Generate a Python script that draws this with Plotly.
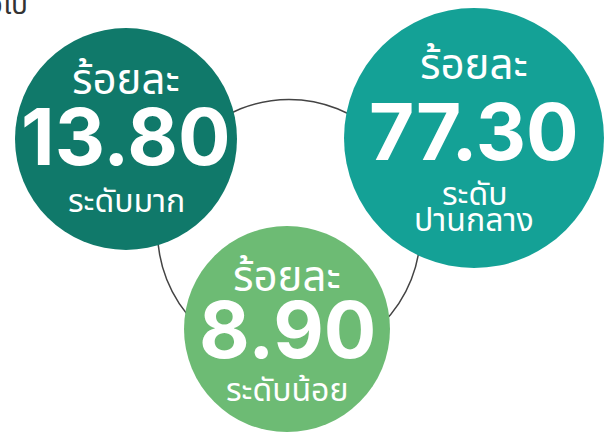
import plotly.graph_objects as go

# data
levels = ["ระดับมาก", "ระดับ<br>ปานกลาง", "ระดับน้อย"]
values = [13.80, 77.30, 8.90]
prefix = "ร้อยละ"
lead_text = "ต่อไป"

# styles / layout (pixels, y grows downward)
colors = ["#10796A", "#14A196", "#6DBB74"]
centers = [(126, 139), (474, 138), (287, 329)]
radii = [111, 130, 103]
ring_center = (289, 231)
ring_r = 131.5

W, H = 607, 432
thai = "Noto Sans Thai, Noto Sans, DejaVu Sans, sans-serif"
num_font = "Inter, Roboto, Liberation Sans, sans-serif"

fig = go.Figure()

# invisible trace so the axes exist
fig.add_trace(go.Scatter(x=[0, W], y=[0, H], mode="markers",
                         marker=dict(opacity=0), hoverinfo="skip", showlegend=False))

shapes = [dict(type="circle", xref="x", yref="y",
               x0=ring_center[0] - ring_r, x1=ring_center[0] + ring_r,
               y0=ring_center[1] - ring_r, y1=ring_center[1] + ring_r,
               line=dict(color="#444444", width=1.5), fillcolor="rgba(0,0,0,0)")]
for (cx, cy), r, c in zip(centers, radii, colors):
    shapes.append(dict(type="circle", xref="x", yref="y",
                       x0=cx - r, x1=cx + r, y0=cy - r, y1=cy + r,
                       line=dict(width=0), fillcolor=c))

annotations = []
# text offsets inside each circle (prefix, number, level)
offsets = [(-58, -3, 63), (-72, -7, 57), (-51, 0, 62)]
for (cx, cy), v, lv, (o1, o2, o3) in zip(centers, values, levels, offsets):
    annotations.append(dict(x=cx, y=cy + o1, text=prefix, showarrow=False,
                            font=dict(family=thai, size=42, color="white")))
    annotations.append(dict(x=cx, y=cy + o2, text="<b>%.2f</b>" % v, showarrow=False,
                            font=dict(family=num_font, size=78, color="white")))
    for i, line in enumerate(lv.split("<br>")):
        annotations.append(dict(x=cx, y=cy + o3 + i * 26, text=line, showarrow=False,
                                font=dict(family=thai, size=32, color="white")))

annotations.append(dict(x=30, y=5, text=lead_text, showarrow=False, xanchor="right",
                        font=dict(family=thai, size=28, color="#333333")))

fig.update_layout(
    width=W, height=H,
    margin=dict(l=0, r=0, t=0, b=0),
    paper_bgcolor="white", plot_bgcolor="white",
    xaxis=dict(range=[0, W], visible=False, fixedrange=True),
    yaxis=dict(range=[H, 0], visible=False, fixedrange=True),
    shapes=shapes, annotations=annotations,
)

fig.write_html("out.html", config={"displayModeBar": False},
               post_script="document.body.style.margin='0';")
